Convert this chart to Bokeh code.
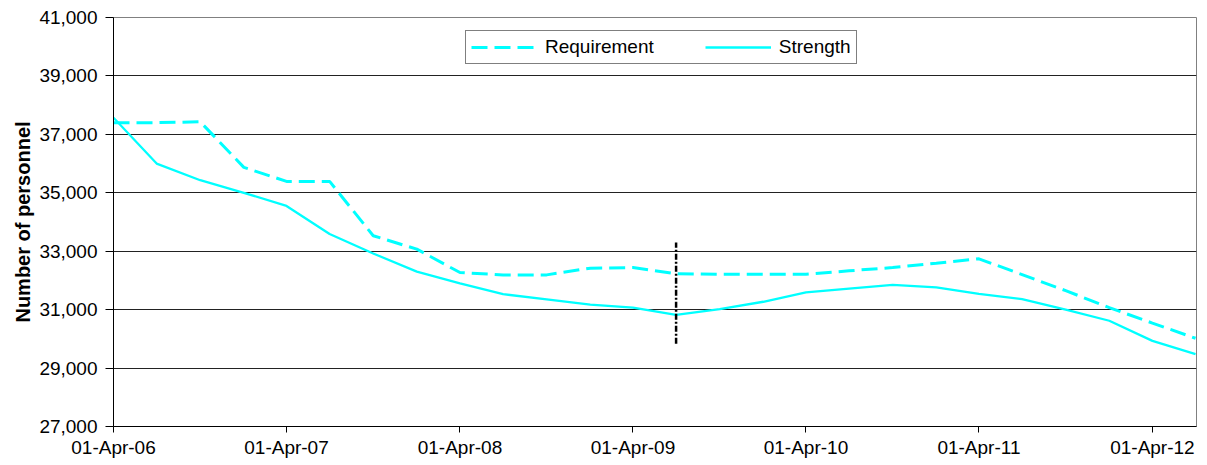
import pandas as pd
from bokeh.plotting import figure
from bokeh.models import (FixedTicker, DatetimeTickFormatter, NumeralTickFormatter,
                          Legend, LegendItem, Range1d)
from bokeh.embed import file_html
from bokeh.resources import INLINE

# ---- data ----
dates = ["2006-04-01", "2006-07-01", "2006-10-01", "2007-01-01",
         "2007-04-01", "2007-07-01", "2007-10-01", "2008-01-01",
         "2008-04-01", "2008-07-01", "2008-10-01", "2009-01-01",
         "2009-04-01", "2009-07-01", "2009-10-01", "2010-01-01",
         "2010-04-01", "2010-07-01", "2010-10-01", "2011-01-01",
         "2011-04-01", "2011-07-01", "2011-10-01", "2012-01-01",
         "2012-04-01", "2012-07-01"]
requirement = [37400, 37400, 37430, 35870, 35390, 35390, 33530, 33070,
               32270, 32190, 32190, 32420, 32440, 32230, 32210, 32210,
               32210, 32330, 32440, 32590, 32740, 32200, 31650, 31070,
               30540, 30020]
strength = [37570, 36000, 35430, 35000, 34550, 33590, 32920, 32300,
            31900, 31530, 31350, 31170, 31070, 30820, 31020, 31270,
            31590, 31720, 31850, 31760, 31540, 31360, 31000, 30620,
            29930, 29480]
marker_date = ["2009-07-01"]
marker_low = [29830]
marker_high = [33300]
tick_dates = ["2006-04-01", "2007-04-01", "2008-04-01", "2009-04-01",
              "2010-04-01", "2011-04-01", "2012-04-01"]
y_ticks = [27000, 29000, 31000, 33000, 35000, 37000, 39000, 41000]
x_start, x_end = "2006-04-01", "2012-07-03"

xd = pd.to_datetime(dates)
md = pd.to_datetime(marker_date)
to_ms = lambda s: pd.Timestamp(s).value / 1e6

FONT = "Liberation Sans"
CYAN = "#00FFFF"

p = figure(width=1207, height=465, x_axis_type="datetime",
           output_backend="svg", toolbar_location=None,
           x_range=Range1d(to_ms(x_start), to_ms(x_end)),
           y_range=Range1d(y_ticks[0], y_ticks[-1]),
           min_border_left=113, min_border_right=11,
           min_border_top=17, min_border_bottom=39)
p.background_fill_color = "white"
p.border_fill_color = "white"
p.outline_line_color = "#808080"
p.outline_line_width = 1

r_req = p.line(xd, requirement, line_color=CYAN, line_width=3, line_dash="16 7")
r_str = p.line(xd, strength, line_color=CYAN, line_width=2.3)
p.segment(x0=md, y0=marker_low, x1=md, y1=marker_high,
          line_color="black", line_width=2.5, line_dash="6 2 2 2")

# axes
p.xaxis.ticker = FixedTicker(ticks=[to_ms(d) for d in tick_dates])
fmt = "%d-%b-%y"
p.xaxis.formatter = DatetimeTickFormatter(
    milliseconds=fmt, seconds=fmt, minsec=fmt, minutes=fmt, hourmin=fmt,
    hours=fmt, days=fmt, months=fmt, years=fmt)
p.yaxis.ticker = FixedTicker(ticks=y_ticks)
p.yaxis.formatter = NumeralTickFormatter(format="0,0")

for ax in (p.xaxis[0], p.yaxis[0]):
    ax.axis_line_color = "black"
    ax.axis_line_width = 1
    ax.major_tick_line_color = "black"
    ax.minor_tick_line_color = None
    ax.major_tick_in = 0
    ax.major_label_text_font = FONT
    ax.major_label_text_font_size = "19px"
    ax.major_label_text_color = "black"

p.xaxis.major_tick_out = 6
p.xaxis.major_label_standoff = 4
p.yaxis.major_tick_out = 8
p.yaxis.major_label_standoff = 8

p.yaxis.axis_label = "Number of personnel"
p.yaxis.axis_label_text_font = FONT
p.yaxis.axis_label_text_font_style = "bold"
p.yaxis.axis_label_text_font_size = "20px"
p.yaxis.axis_label_text_color = "black"
p.yaxis.axis_label_standoff = 2

p.xgrid.grid_line_color = None
p.ygrid.grid_line_color = "#222222"
p.ygrid.grid_line_width = 1

legend = Legend(items=[LegendItem(label="Requirement", renderers=[r_req]),
                       LegendItem(label="Strength", renderers=[r_str])],
                orientation="horizontal", location=(352, 362),
                border_line_color="black", border_line_width=1,
                background_fill_color="white", background_fill_alpha=1,
                padding=5, spacing=51, margin=0,
                glyph_width=66, glyph_height=16, label_height=16,
                label_standoff=8, label_text_font=FONT,
                label_text_font_size="19px", label_text_color="black")
p.add_layout(legend)

open("out.html", "w").write(file_html(p, INLINE))
